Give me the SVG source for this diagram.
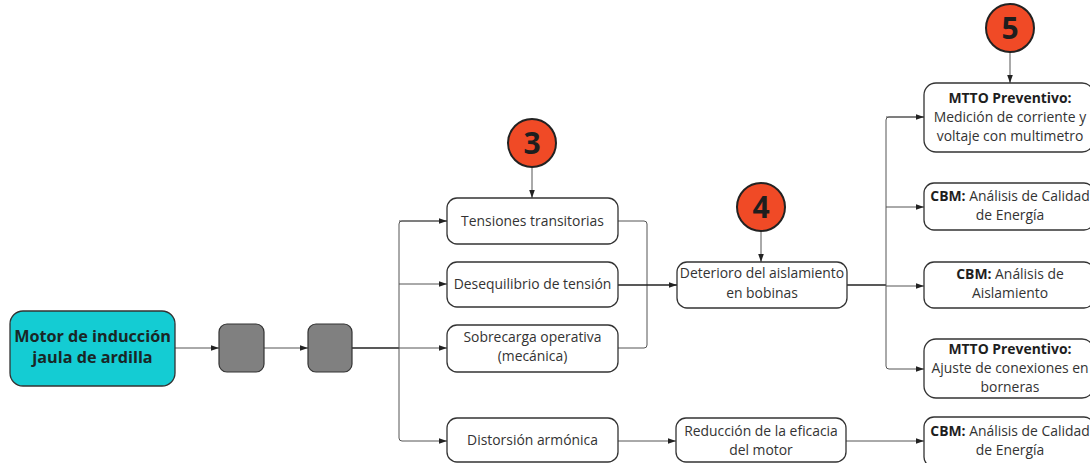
<svg xmlns="http://www.w3.org/2000/svg" width="1090" height="463" viewBox="0 0 1090 463">
<defs>
<marker id="ah" viewBox="0 0 10 10" refX="10" refY="5" markerWidth="8" markerHeight="8" markerUnits="userSpaceOnUse" orient="auto">
<path d="M0,1.5 L10,5 L0,8.5 z" fill="#222"/>
</marker>
<style>
.box{fill:#fff;stroke:#333;stroke-width:1.3}
.grey{fill:#808080;stroke:#333;stroke-width:1.2}
.t{font-family:"Open Sans","Noto Sans","Liberation Sans",sans-serif;font-size:13.9px;fill:#333;text-anchor:middle}
.b{font-weight:bold;fill:#1e1e1e}
.mt{font-family:"Open Sans","Noto Sans","Liberation Sans",sans-serif;font-size:16.2px;font-weight:bold;fill:#1a2626;text-anchor:middle}
.circ{fill:#F04A26;stroke:#222;stroke-width:2}
.num{font-family:"Open Sans","Noto Sans","Liberation Sans",sans-serif;font-size:30px;font-weight:bold;fill:#1e1e1e;text-anchor:middle}
.c{fill:none;stroke:#555;stroke-width:1}
.cd{fill:none;stroke:#222;stroke-width:1.3}
</style>
</defs>
<rect width="1090" height="463" fill="#fff"/>
<g id="connectors">
<path class="c" d="M175,348 H219" marker-end="url(#ah)"/>
<path class="c" d="M264,348 H308" marker-end="url(#ah)"/>
<path class="cd" d="M352,348 H399"/>
<path class="c" d="M447,221 H402 Q399,221 399,224 V438 Q399,441 402,441 H447" marker-end="url(#ah)"/>
<path class="c" d="M399,221 H447" marker-end="url(#ah)"/>
<path class="c" d="M399,284 H447" marker-end="url(#ah)"/>
<path class="c" d="M399,348 H447" marker-end="url(#ah)"/>
<path class="c" d="M618,221 H644 Q647,221 647,224 V345 Q647,348 644,348 H618"/>
<path class="cd" d="M618,285 H677" marker-end="url(#ah)"/>
<path class="c" d="M532,168 V198" marker-end="url(#ah)"/>
<path class="c" d="M761,231 V262" marker-end="url(#ah)"/>
<path class="c" d="M1010,52 V83" marker-end="url(#ah)"/>
<path class="cd" d="M847,285 H886"/>
<path class="c" d="M924,117 H889 Q886,117 886,120 V366 Q886,369 889,369 H924" marker-end="url(#ah)"/>
<path class="c" d="M886,117 H924" marker-end="url(#ah)"/>
<path class="c" d="M886,207 H924" marker-end="url(#ah)"/>
<path class="c" d="M886,286 H924" marker-end="url(#ah)"/>
<path class="c" d="M618,441 H676" marker-end="url(#ah)"/>
<path class="c" d="M846,441 H924" marker-end="url(#ah)"/>
</g>
<g id="motor">
<rect x="10" y="311" width="165" height="75" rx="13" fill="#14CCD3" stroke="#333" stroke-width="1.3"/>
<text class="mt" x="92.5" y="342">Motor de inducción</text>
<text class="mt" x="92.5" y="363">jaula de ardilla</text>
</g>
<g id="grey1"><rect class="grey" x="219" y="324" width="45" height="48" rx="8"/></g>
<g id="grey2"><rect class="grey" x="308" y="324" width="44" height="48" rx="8"/></g>
<g id="tensiones">
<rect class="box" x="447" y="198" width="171" height="46" rx="10"/>
<text class="t" x="532.5" y="226">Tensiones transitorias</text>
</g>
<g id="desequilibrio">
<rect class="box" x="447" y="262" width="171" height="45" rx="10"/>
<text class="t" x="532.5" y="289">Desequilibrio de tensión</text>
</g>
<g id="sobrecarga">
<rect class="box" x="447" y="325" width="171" height="47" rx="10"/>
<text class="t" x="532.5" y="342">Sobrecarga operativa</text>
<text class="t" x="532.5" y="361">(mecánica)</text>
</g>
<g id="distorsion">
<rect class="box" x="447" y="418" width="171" height="44" rx="10"/>
<text class="t" x="532.5" y="445">Distorsión armónica</text>
</g>
<g id="deterioro">
<rect class="box" x="677" y="262" width="170" height="46" rx="10"/>
<text class="t" x="762" y="278">Deterioro del aislamiento</text>
<text class="t" x="762" y="298">en bobinas</text>
</g>
<g id="reduccion">
<rect class="box" x="676" y="418" width="170" height="44" rx="10"/>
<text class="t" x="761" y="436">Reducción de la eficacia</text>
<text class="t" x="761" y="455">del motor</text>
</g>
<g id="mtto1">
<rect class="box" x="924" y="83" width="170" height="69" rx="12"/>
<text class="t b" x="1010" y="103">MTTO Preventivo:</text>
<text class="t" x="1010" y="122">Medición de corriente y</text>
<text class="t" x="1010" y="141">voltaje con multimetro</text>
</g>
<g id="cbm1">
<rect class="box" x="924" y="183" width="170" height="47" rx="10"/>
<text class="t" x="1010" y="201"><tspan class="b">CBM:</tspan> Análisis de Calidad</text>
<text class="t" x="1010" y="220">de Energía</text>
</g>
<g id="cbm2">
<rect class="box" x="924" y="262" width="170" height="46" rx="10"/>
<text class="t" x="1010" y="279"><tspan class="b">CBM:</tspan> Análisis de</text>
<text class="t" x="1010" y="298">Aislamiento</text>
</g>
<g id="mtto2">
<rect class="box" x="924" y="339" width="170" height="59" rx="12"/>
<text class="t b" x="1010" y="354">MTTO Preventivo:</text>
<text class="t" x="1010" y="373">Ajuste de conexiones en</text>
<text class="t" x="1010" y="392">borneras</text>
</g>
<g id="cbm3">
<rect class="box" x="924" y="417" width="170" height="50" rx="10"/>
<text class="t" x="1010" y="436"><tspan class="b">CBM:</tspan> Análisis de Calidad</text>
<text class="t" x="1010" y="455">de Energía</text>
</g>
<g id="badge3">
<circle class="circ" cx="532" cy="143" r="24"/>
<text class="num" x="532" y="153.5">3</text>
</g>
<g id="badge4">
<circle class="circ" cx="761" cy="207" r="24"/>
<text class="num" x="761" y="217.5">4</text>
</g>
<g id="badge5">
<circle class="circ" cx="1010" cy="28" r="24"/>
<text class="num" x="1010" y="38.5">5</text>
</g>
</svg>
